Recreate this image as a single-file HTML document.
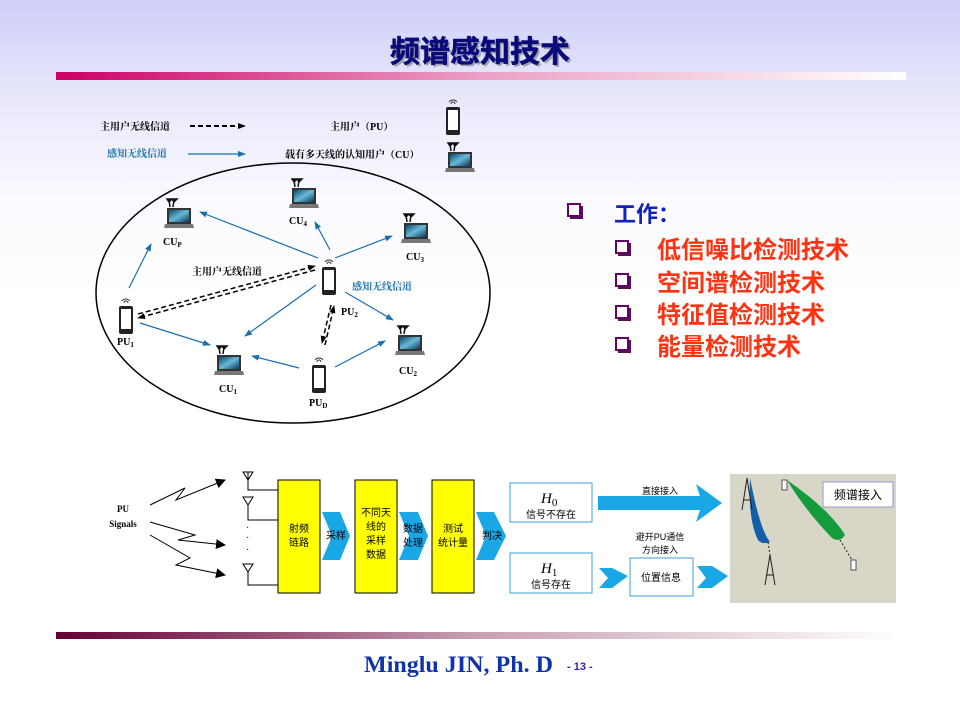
<!DOCTYPE html>
<html><head><meta charset="utf-8"><style>
html,body{margin:0;padding:0}
body{width:960px;height:720px;overflow:hidden;background:linear-gradient(#cfcffb 0px,#e6e6fa 90px,#fafaff 200px,#fff 300px);font-family:"Liberation Sans","Noto Sans CJK SC",sans-serif}
svg{position:absolute;left:0;top:0}
</style></head><body>
<svg width="960" height="720" viewBox="0 0 960 720" xmlns="http://www.w3.org/2000/svg">
<defs>
<linearGradient id="tb" x1="0" x2="1"><stop offset="0" stop-color="#cc0066"/><stop offset="0.5" stop-color="#eaa0c4"/><stop offset="1" stop-color="#fff"/></linearGradient>
<linearGradient id="bb" x1="0" x2="1"><stop offset="0" stop-color="#660033"/><stop offset="0.5" stop-color="#c8a0b4"/><stop offset="1" stop-color="#fff"/></linearGradient>
<linearGradient id="scr" x1="0" y1="0" x2="1" y2="1"><stop offset="0" stop-color="#0a4a70"/><stop offset="0.5" stop-color="#6ab8d8"/><stop offset="1" stop-color="#0a3a60"/></linearGradient>
<marker id="ab" markerWidth="8" markerHeight="8" refX="7" refY="4" orient="auto" markerUnits="userSpaceOnUse"><path d="M0,1 L8,4 L0,7z" fill="#1a6fb0"/></marker>
<marker id="ak" markerWidth="8" markerHeight="8" refX="7" refY="4" orient="auto" markerUnits="userSpaceOnUse"><path d="M0,1 L8,4 L0,7z" fill="#000"/></marker>
<marker id="ak2" markerWidth="10" markerHeight="10" refX="9" refY="5" orient="auto" markerUnits="userSpaceOnUse"><path d="M0,0 L10,5 L0,10z" fill="#000"/></marker>
<g id="lap"><path d="M3,2 L4,9 M8,2 L7,9 M1,1 L6,1 L3,4z M6,1 L11,1 L8,4z" stroke="#111" stroke-width="1.5" fill="#111"/><rect x="1" y="10" width="24" height="16" fill="#333"/><rect x="3" y="12" width="20" height="12" fill="url(#scr)"/><path d="M-1,26 L27,26 L28,30 L-2,30z" fill="#777"/></g>
<g id="ph"><path d="M3,2 a5,5 0 0 1 8,0 M5,4 a2,2 0 0 1 4,0" stroke="#333" fill="none" stroke-width="1"/><rect x="0" y="7" width="14" height="28" rx="2" fill="#222"/><rect x="2" y="10" width="10" height="20" fill="#fff"/></g>
</defs>
<text x="482" y="64" text-anchor="middle" font-size="30" font-weight="bold" fill="#777" opacity="0.6">频谱感知技术</text>
<text x="480" y="62" text-anchor="middle" font-size="30" font-weight="bold" fill="#0a0a7a" stroke="#0a0a7a" stroke-width="0.6">频谱感知技术</text>
<rect x="56" y="72" width="850" height="8" fill="url(#tb)"/>
<rect x="56" y="632" width="845" height="7" fill="url(#bb)"/>
<text x="364" y="672" font-family="'Liberation Serif',serif" font-weight="bold" font-size="23" fill="#1133aa" textLength="189" lengthAdjust="spacingAndGlyphs">Minglu JIN, Ph. D</text>
<text x="567" y="670" font-size="11" fill="#3322aa" font-weight="bold">- 13 -</text>

<!-- top network diagram -->
<g font-size="10" font-weight="bold" font-family="'Liberation Serif','Noto Serif CJK SC',serif">
<text x="100" y="130">主用户无线信道</text>
<line x1="190" y1="126" x2="245" y2="126" stroke="#000" stroke-width="2" stroke-dasharray="5,3" marker-end="url(#ak)"/>
<text x="107" y="157" fill="#1a6fb0">感知无线信道</text>
<line x1="188" y1="154" x2="245" y2="154" stroke="#1a6fb0" stroke-width="1.2" marker-end="url(#ab)"/>
<text x="330" y="130">主用户（PU）</text>
<text x="285" y="158">载有多天线的认知用户（CU）</text>
<use href="#ph" x="446" y="100"/>
<use href="#lap" x="447" y="142"/>
<ellipse cx="293" cy="293" rx="197" ry="130" fill="none" stroke="#000" stroke-width="1.5"/>
<use href="#lap" x="166" y="198"/><text x="163" y="245">CU<tspan font-size="7" dy="2">P</tspan></text>
<use href="#lap" x="291" y="178"/><text x="289" y="224">CU<tspan font-size="7" dy="2">4</tspan></text>
<use href="#lap" x="403" y="213"/><text x="406" y="260">CU<tspan font-size="7" dy="2">3</tspan></text>
<use href="#lap" x="397" y="325"/><text x="399" y="374">CU<tspan font-size="7" dy="2">2</tspan></text>
<use href="#lap" x="216" y="345"/><text x="219" y="392">CU<tspan font-size="7" dy="2">1</tspan></text>
<use href="#ph" x="322" y="260"/><text x="341" y="315">PU<tspan font-size="7" dy="2">2</tspan></text>
<use href="#ph" x="312" y="358"/><text x="309" y="406">PU<tspan font-size="7" dy="2">D</tspan></text>
<use href="#ph" x="119" y="299"/><text x="117" y="345">PU<tspan font-size="7" dy="2">1</tspan></text>
<text x="192" y="275">主用户无线信道</text>
<text x="352" y="290" fill="#1a6fb0">感知无线信道</text>
<g stroke="#1a6fb0" stroke-width="1.2" marker-end="url(#ab)">
<line x1="318" y1="258" x2="200" y2="212"/>
<line x1="330" y1="250" x2="315" y2="222"/>
<line x1="335" y1="258" x2="392" y2="236"/>
<line x1="345" y1="292" x2="393" y2="320"/>
<line x1="316" y1="285" x2="245" y2="336"/>
<line x1="335" y1="367" x2="385" y2="341"/>
<line x1="299" y1="368" x2="252" y2="356"/>
<line x1="140" y1="323" x2="210" y2="345"/>
<line x1="129" y1="288" x2="151" y2="244"/>
</g>
<g stroke="#000" stroke-width="1.5" stroke-dasharray="5,3">
<line x1="315" y1="270" x2="138" y2="318" marker-end="url(#ak)"/>
<line x1="138" y1="314" x2="315" y2="266" marker-end="url(#ak)"/>
<line x1="331" y1="305" x2="322" y2="343" marker-end="url(#ak)"/>
<line x1="325" y1="345" x2="334" y2="306" marker-end="url(#ak)"/>
</g>
</g>

<!-- bullets -->
<g>
<g fill="#551155"><rect x="570" y="206" width="13" height="13"/><rect x="618" y="243" width="13" height="13"/><rect x="618" y="276" width="13" height="13"/><rect x="618" y="308" width="13" height="13"/><rect x="618" y="340" width="13" height="13"/></g>
<g fill="#fff" stroke="#660066" stroke-width="2">
<rect x="568" y="204" width="12" height="12"/><rect x="616" y="241" width="12" height="12"/><rect x="616" y="274" width="12" height="12"/><rect x="616" y="306" width="12" height="12"/><rect x="616" y="338" width="12" height="12"/>
</g>
<text x="614" y="222" font-size="22" fill="#1122bb" font-weight="bold">工作：</text>
<g font-size="24" fill="#ff3311" font-weight="bold">
<text x="657" y="258">低信噪比检测技术</text>
<text x="657" y="291">空间谱检测技术</text>
<text x="657" y="323">特征值检测技术</text>
<text x="657" y="355">能量检测技术</text>
</g>
</g>

<!-- bottom diagram -->
<g font-size="10">
<text x="123" y="512" text-anchor="middle" font-family="'Liberation Serif',serif" font-weight="bold" font-size="9">PU</text>
<text x="123" y="527" text-anchor="middle" font-family="'Liberation Serif',serif" font-weight="bold" font-size="9">Signals</text>
<g stroke="#000" fill="none" stroke-width="1">
<polyline points="150,505 185,488 176,500 225,480" marker-end="url(#ak2)"/>
<polyline points="150,522 195,535 178,540 225,545" marker-end="url(#ak2)"/>
<polyline points="150,535 190,558 176,565 225,575" marker-end="url(#ak2)"/>
<path d="M243,472 L253,472 L248,480z M248,472 V490 H278"/><path d="M243,497 L253,497 L248,505z M248,505 V520 H278"/><path d="M243,564 L253,564 L248,572z M248,572 V585 H278"/>
</g>
<text x="246" y="530">·</text><text x="246" y="540">·</text><text x="246" y="552">·</text>
<g fill="#ffff00" stroke="#000" stroke-width="1">
<rect x="278" y="480" width="42" height="113"/><rect x="355" y="480" width="42" height="113"/><rect x="432" y="480" width="42" height="113"/>
</g>
<g fill="#1aa7e6">
<path d="M322,512 L340,512 L350,536 L340,560 L322,560 L332,536z"/>
<path d="M399,512 L418,512 L428,536 L418,560 L399,560 L409,536z"/>
<path d="M476,512 L494,512 L506,536 L494,560 L476,560 L486,536z"/>
<path d="M598,496 L700,496 L696,484 L722,503 L696,522 L700,510 L598,510z"/>
<path d="M599,568 L612,568 L628,576 L612,588 L599,588 L608,578z"/>
<path d="M697,566 L712,566 L728,576 L712,588 L697,588 L706,578z"/>
</g>
<g font-size="10" fill="#000" text-anchor="middle">
<text x="299" y="532">射频</text><text x="299" y="546">链路</text>
<text x="376" y="516">不同天</text><text x="376" y="530">线的</text><text x="376" y="544">采样</text><text x="376" y="558">数据</text>
<text x="453" y="532">测试</text><text x="453" y="546">统计量</text>
<text x="336" y="539">采样</text><text x="413" y="532">数据</text><text x="413" y="546">处理</text><text x="492" y="539">判决</text>
</g>
<g fill="#fff" stroke="#3aa0d8" stroke-width="1"><rect x="510" y="483" width="82" height="39"/><rect x="510" y="553" width="82" height="40"/><rect x="630" y="558" width="63" height="38"/></g>
<text x="541" y="503" font-family="'Liberation Serif',serif" font-style="italic" font-size="15">H<tspan font-size="11" dy="3" font-style="normal">0</tspan></text>
<text x="551" y="518" text-anchor="middle">信号不存在</text>
<text x="541" y="573" font-family="'Liberation Serif',serif" font-style="italic" font-size="15">H<tspan font-size="11" dy="3" font-style="normal">1</tspan></text>
<text x="551" y="588" text-anchor="middle">信号存在</text>
<text x="661" y="581" text-anchor="middle">位置信息</text>
<text x="660" y="494" text-anchor="middle" font-size="9">直接接入</text>
<text x="660" y="540" text-anchor="middle" font-size="9">避开PU通信</text>
<text x="660" y="553" text-anchor="middle" font-size="9">方向接入</text>
<rect x="730" y="474" width="166" height="129" fill="#d8d6c6"/>
<rect x="823" y="482" width="70" height="25" fill="#fff" stroke="#99c" stroke-width="1"/>
<text x="858" y="499" text-anchor="middle" font-size="12">频谱接入</text>
<path d="M750,478 Q760,530 770,542 Q762,545 758,540 Q748,520 750,478z" fill="#1460a8"/>
<path d="M787,480 Q830,510 845,535 Q840,543 832,538 Q805,510 787,480z" fill="#159a3c"/>
<g stroke="#222" stroke-width="1" fill="none"><path d="M742,510 L747,478 L752,510 M744,500 H750"/><path d="M765,585 L770,555 L775,585 M766,575 H774"/><line x1="768" y1="542" x2="770" y2="555" stroke-dasharray="2,2"/><line x1="840" y1="540" x2="852" y2="560" stroke-dasharray="2,2"/></g>
<rect x="782" y="480" width="5" height="10" fill="#fff" stroke="#555"/><rect x="851" y="560" width="5" height="10" fill="#fff" stroke="#555"/>
</g>
</svg>
</body></html>
